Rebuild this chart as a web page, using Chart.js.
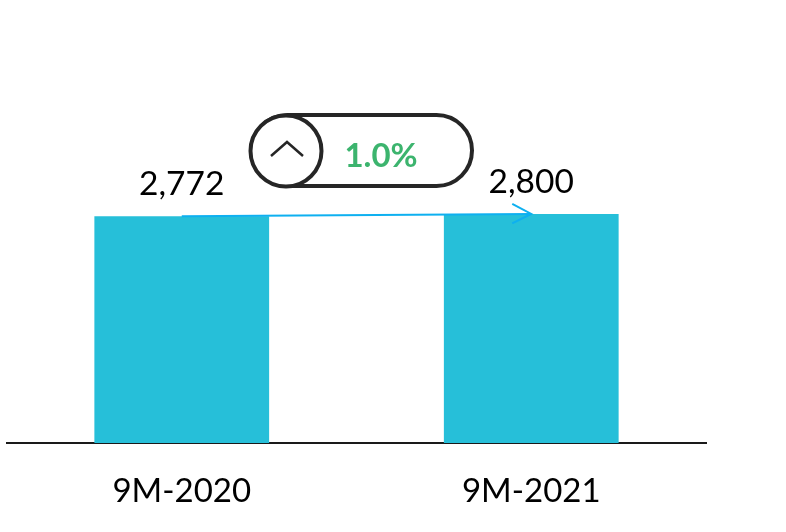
<!DOCTYPE html>
<html>
<head>
<meta charset="utf-8">
<style>html,body{margin:0;padding:0;background:#fff}#w{width:786px;height:532px}</style>
<script src="https://cdn.jsdelivr.net/npm/chart.js@4"></script>
</head>
<body>
<div id="w"><canvas id="c" width="786" height="532"></canvas></div>
<script>
const categories = ["9M-2020", "9M-2021"];
const revenue = [2772, 2800];
const valueLabels = ["2,772", "2,800"];
const changeLabel = "1.0%";

const labelFont = "Lato, Carlito, sans-serif";

const overlay = {
  id: "overlay",
  afterDatasetsDraw(chart) {
    const { ctx } = chart;
    const x = chart.scales.x, y = chart.scales.y;
    ctx.save();
    // value labels
    ctx.fillStyle = "#000";
    ctx.font = "33.5px " + labelFont;
    ctx.textAlign = "center";
    ctx.textBaseline = "middle";
    ctx.fillText(valueLabels[0], x.getPixelForValue(0), y.getPixelForValue(revenue[0]) - 32);
    ctx.fillText(valueLabels[1], x.getPixelForValue(1), y.getPixelForValue(revenue[1]) - 32);
    // arrow head at end of the trend line
    const ax = x.getPixelForValue(1), ay = y.getPixelForValue(revenue[1]);
    ctx.strokeStyle = "#0EB0F0";
    ctx.lineWidth = 2;
    ctx.beginPath();
    ctx.moveTo(ax - 19, ay - 10);
    ctx.lineTo(ax, ay);
    ctx.lineTo(ax - 19, ay + 9.5);
    ctx.stroke();
    // pill
    ctx.strokeStyle = "#262626";
    ctx.lineWidth = 4;
    ctx.fillStyle = "#fff";
    ctx.beginPath();
    ctx.roundRect(252, 115, 220, 71, 35.5);
    ctx.fill();
    ctx.stroke();
    ctx.beginPath();
    ctx.arc(286, 151, 35.5, 0, Math.PI * 2);
    ctx.fill();
    ctx.stroke();
    ctx.lineWidth = 2.5;
    ctx.beginPath();
    ctx.moveTo(271, 156);
    ctx.lineTo(287, 142);
    ctx.lineTo(303, 156);
    ctx.stroke();
    ctx.fillStyle = "#3CB46E";
    ctx.font = "bold 33px " + labelFont;
    ctx.fillText(changeLabel, 381, 156);
    ctx.restore();
  }
};

new Chart(document.getElementById("c"), {
  data: {
    labels: categories,
    datasets: [
      {
        type: "line",
        data: revenue,
        borderColor: "#0EB0F0",
        borderWidth: 2,
        pointRadius: 0,
        tension: 0,
        order: 0
      },
      {
        type: "bar",
        data: revenue,
        backgroundColor: "#26BFD9",
        borderWidth: 0,
        barPercentage: 0.5,
        categoryPercentage: 1,
        order: 1
      }
    ]
  },
  options: {
    responsive: false,
    animation: false,
    layout: { padding: { left: 7, right: 80, top: 34, bottom: 0 } },
    plugins: { legend: { display: false }, tooltip: { enabled: false }, title: { display: false } },
    scales: {
      x: {
        afterFit(s) { s.height = 89; },
        grid: { display: false, drawTicks: false },
        border: { display: true, color: "#1a1a1a", width: 2 },
        ticks: { color: "#000", font: { family: labelFont, size: 33 }, padding: 29, maxRotation: 0 }
      },
      y: { display: false, min: 0, max: 5000 }
    }
  },
  plugins: [overlay]
});
</script>
</body>
</html>
